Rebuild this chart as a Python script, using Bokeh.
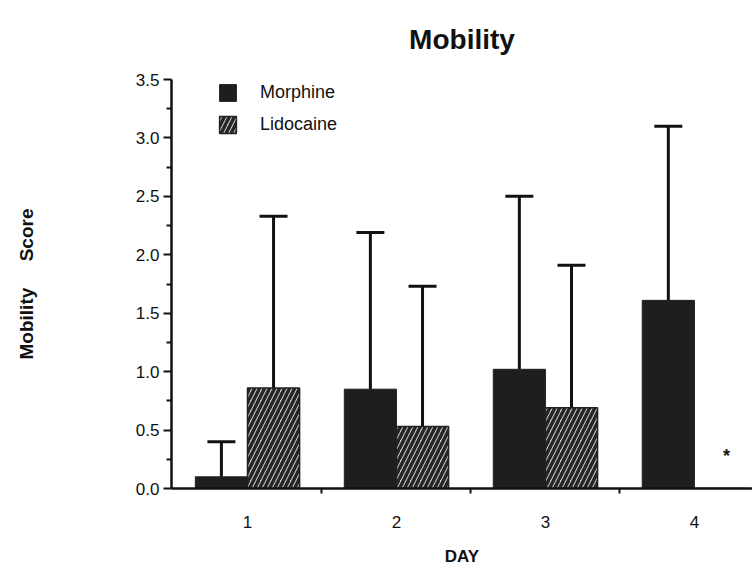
from bokeh.plotting import figure
from bokeh.models import (ColumnDataSource, Range1d, FixedTicker, Whisker, TeeHead,
                          Legend, LegendItem, NumeralTickFormatter)
from bokeh.embed import file_html
from bokeh.resources import INLINE
from bokeh.core.properties import value

# Mean mobility score and standard deviation per day
days = [1, 2, 3, 4]
day_labels = ["1", "2", "3", "4"]
morphine_mean = [0.10, 0.85, 1.02, 1.61]
morphine_sd = [0.30, 1.34, 1.48, 1.49]
lidocaine_mean = [0.86, 0.53, 0.69, 0.0]
lidocaine_sd = [1.47, 1.20, 1.22, 0.0]
lidocaine_note = ["", "", "", "*"]
y_ticks = [0.0, 0.5, 1.0, 1.5, 2.0, 2.5, 3.0, 3.5]

FONT = "Liberation Sans"
INK = "#111111"
BAR_W = 0.35
SHIFT = BAR_W / 2

morph = ColumnDataSource(dict(
    x=[d - SHIFT for d in days], top=morphine_mean,
    upper=[m + s for m, s in zip(morphine_mean, morphine_sd)],
))
lido = ColumnDataSource(dict(
    x=[d + SHIFT for d in days], top=lidocaine_mean,
    upper=[m + s for m, s in zip(lidocaine_mean, lidocaine_sd)],
    note=lidocaine_note,
))
keep = [i for i, s in enumerate(lidocaine_sd) if s > 0]
lido_err = ColumnDataSource(dict(
    x=[days[i] + SHIFT for i in keep],
    base=[lidocaine_mean[i] for i in keep],
    upper=[lidocaine_mean[i] + lidocaine_sd[i] for i in keep],
))

p = figure(width=752, height=568, output_backend="svg", toolbar_location=None,
           x_range=Range1d(0.49, 4.39), y_range=Range1d(0, 3.5),
           title="Mobility")
p.min_border_left = 171
p.min_border_right = 0
p.min_border_top = 78
p.min_border_bottom = 79
p.outline_line_color = None
p.xgrid.grid_line_color = None
p.ygrid.grid_line_color = None
p.background_fill_color = "white"
p.border_fill_color = "white"

p.title.text_font = FONT
p.title.text_font_size = "28px"
p.title.text_font_style = "bold"
p.title.text_color = INK
p.title.align = "center"
p.title.vertical_align = "top"
p.title.text_line_height = 0.8
p.title.standoff = 46

r_m = p.vbar(x="x", top="top", width=BAR_W, source=morph,
             fill_color="#1e1e1e", line_color="#1e1e1e")
r_l = p.vbar(x="x", top="top", width=BAR_W, source=lido,
             fill_color="#cfcfcf", line_color="#222222", line_width=1.5,
             hatch_pattern="/", hatch_color="#262626", hatch_scale=10, hatch_weight=3.5)

# Upper error bars only
p.add_layout(Whisker(source=morph, base="x", lower="top", upper="upper",
                     line_color=INK, line_width=3, lower_head=None,
                     upper_head=TeeHead(size=28, line_color=INK, line_width=3)))
p.add_layout(Whisker(source=lido_err, base="x", lower="base", upper="upper",
                     line_color=INK, line_width=3, lower_head=None,
                     upper_head=TeeHead(size=28, line_color=INK, line_width=3)))

p.text(x="x", y="top", text="note", source=lido, text_font=value(FONT),
       text_font_size="18px", text_font_style="bold", text_color=INK,
       text_align="center", text_baseline="middle", x_offset=6, y_offset=-33)

# Axes
xa = p.xaxis[0]
xa.ticker = FixedTicker(ticks=days, minor_ticks=[1.5, 2.5, 3.5])
xa.major_label_overrides = {d: lab for d, lab in zip(days, day_labels)}
xa.major_tick_out = 0
xa.major_tick_in = 0
xa.minor_tick_out = 5
xa.minor_tick_in = 0
xa.minor_tick_line_width = 2
xa.minor_tick_line_color = INK
xa.axis_line_width = 2.5
xa.axis_line_color = INK
xa.major_label_text_font = FONT
xa.major_label_text_font_size = "17px"
xa.major_label_text_color = INK
xa.major_label_standoff = 22
xa.axis_label = "DAY"
xa.axis_label_text_font = FONT
xa.axis_label_text_font_size = "17px"
xa.axis_label_text_font_style = "bold"
xa.axis_label_text_color = INK
xa.axis_label_standoff = 16

ya = p.yaxis[0]
ya.ticker = FixedTicker(ticks=y_ticks,
                        minor_ticks=[0.25 + 0.5 * i for i in range(7)])
ya.formatter = NumeralTickFormatter(format="0.0")
ya.major_tick_out = 8
ya.major_tick_in = 0
ya.minor_tick_out = 5
ya.minor_tick_in = 0
ya.major_tick_line_width = 2
ya.minor_tick_line_width = 2
ya.major_tick_line_color = INK
ya.minor_tick_line_color = INK
ya.axis_line_width = 2.5
ya.axis_line_color = INK
ya.major_label_text_font = FONT
ya.major_label_text_font_size = "17px"
ya.major_label_text_color = INK
ya.major_label_standoff = 4
ya.axis_label = "Mobility\u00a0\u00a0\u00a0\u00a0\u00a0Score"
ya.axis_label_text_font = FONT
ya.axis_label_text_font_size = "19px"
ya.axis_label_text_font_style = "bold"
ya.axis_label_text_color = INK
ya.axis_label_standoff = 96

legend = Legend(items=[LegendItem(label="Morphine", renderers=[r_m]),
                       LegendItem(label="Lidocaine", renderers=[r_l])],
                location=(46, 353), orientation="vertical",
                glyph_width=21, glyph_height=21, spacing=11, padding=0, margin=0,
                label_standoff=22, label_text_font=FONT, label_text_font_size="18px",
                label_text_color=INK, border_line_color=None,
                background_fill_alpha=0)
p.add_layout(legend)

open("out.html", "w").write(file_html(p, INLINE))
